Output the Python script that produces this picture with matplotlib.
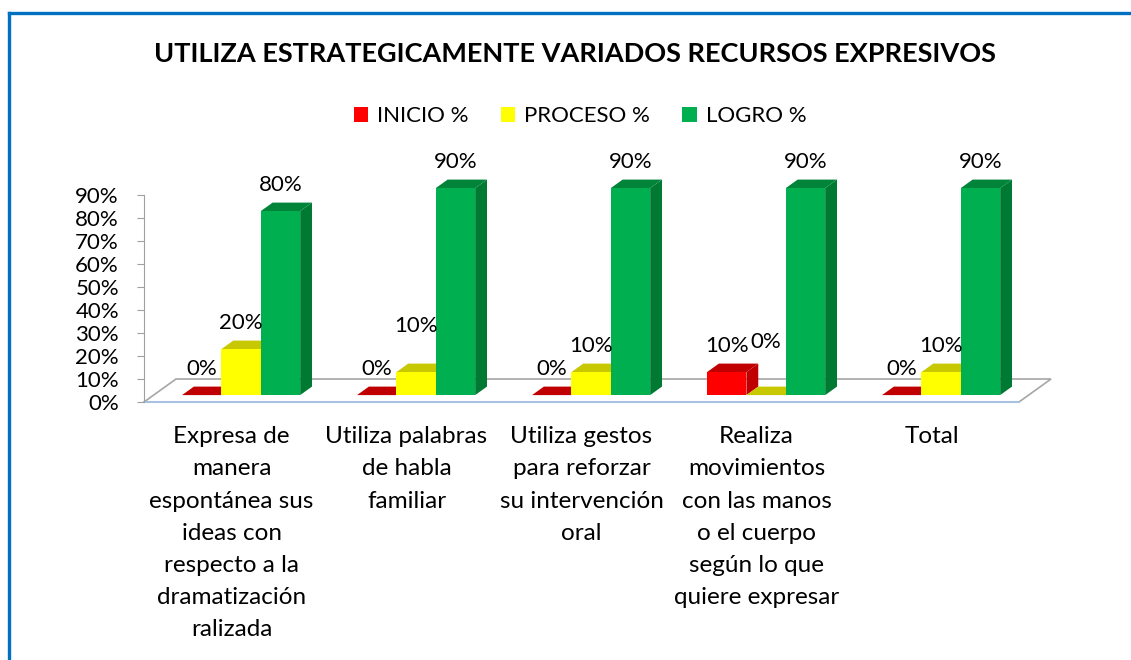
import matplotlib.pyplot as plt
from matplotlib.patches import Polygon, Patch
from matplotlib.lines import Line2D

plt.rcParams['font.family'] = ['Lato', 'DejaVu Sans']

# data
categories = ['Expresa de\nmanera\nespontánea sus\nideas con\nrespecto a la\ndramatización\nralizada',
              'Utiliza palabras\nde habla\nfamiliar',
              'Utiliza gestos\npara reforzar\nsu intervención\noral',
              'Realiza\nmovimientos\ncon las manos\no el cuerpo\nsegún lo que\nquiere expresar',
              'Total']
series_names = ['INICIO %', 'PROCESO %', 'LOGRO %']
inicio = [0, 0, 0, 10, 0]
proceso = [20, 10, 10, 0, 10]
logro = [80, 90, 90, 90, 90]
yticks = [0, 10, 20, 30, 40, 50, 60, 70, 80, 90]

# styles
front_cols = ['#FF0000', '#FFFF00', '#00B050']
top_cols = ['#C00000', '#C8C800', '#00843A']
side_cols = ['#C00000', '#B4B400', '#007A33']
# extra lift of a few data labels (percent units)
label_lift = [[0, 0, 0], [0, 9, 0], [0, 0, 0], [0, 12, 0], [0, 0, 0]]

W = 1131
H = 660
fig = plt.figure(figsize=(W / 100, H / 100), dpi=100)
px = 175.0  # pixels per category
ax = fig.add_axes([144 / W, (H - 402) / H, 5.3 * px / W, 230 / H])
ax.set_xlim(-0.5, 4.8)
ax.set_ylim(0, 100)

# depth projection (floor back edge offset)
DX = 32 / px
DY = 10.0
z_front = 0.3
z_back = 0.67
bw = 0.225

# floor
floor = Polygon([(-0.5, 0), (4.5, 0), (4.5 + DX, DY), (-0.5 + DX, DY)],
                closed=True, facecolor='white', edgecolor='#A6A6A6', lw=1.2, zorder=1)
ax.add_patch(floor)
ax.plot([-0.5, 4.5], [0, 0], color='#A9C1E0', lw=1.5, zorder=1.5, clip_on=False)

values = [inicio, proceso, logro]
for i in range(len(categories)):
    for k in range(3):
        h = values[k][i]
        x0 = i + (k - 1.5) * bw + z_front * DX
        x1 = x0 + bw
        y0 = z_front * DY
        ddx = (z_back - z_front) * DX
        ddy = (z_back - z_front) * DY
        zo = 2 + i * 3 + k
        side = Polygon([(x1, y0), (x1 + ddx, y0 + ddy), (x1 + ddx, y0 + ddy + h), (x1, y0 + h)],
                       closed=True, facecolor=side_cols[k], edgecolor='none', zorder=zo)
        top = Polygon([(x0, y0 + h), (x1, y0 + h), (x1 + ddx, y0 + ddy + h), (x0 + ddx, y0 + ddy + h)],
                      closed=True, facecolor=top_cols[k], edgecolor='none', zorder=zo)
        ax.add_patch(side)
        ax.add_patch(top)
        if h > 0:
            ax.bar(x0, h, width=bw, bottom=y0, align='edge', color=front_cols[k],
                   zorder=zo, clip_on=False)
        ax.text(x0 + bw / 2, h + z_back * DY + 7.5 + label_lift[i][k], f'{h}%',
                ha='center', va='center', fontsize=16, zorder=40)

for p in ax.patches:
    p.set_clip_on(False)

# category labels
for i, lab in enumerate(categories):
    ax.text(i, -10.5, lab, ha='center', va='top', fontsize=17.5, linespacing=1.66)

# axes
for s in ['top', 'right', 'bottom']:
    ax.spines[s].set_visible(False)
ax.spines['left'].set_color('#A0A0A0')
ax.spines['left'].set_bounds(0, 90)
ax.set_xticks([])
ax.set_yticks(yticks)
ax.set_yticklabels([f'{t}%' for t in yticks], fontsize=16)
ax.tick_params(axis='y', colors='#A0A0A0', labelcolor='black', length=5, pad=13)

# title and legend
fig.text(575 / W, 1 - 54 / H, 'UTILIZA ESTRATEGICAMENTE VARIADOS RECURSOS EXPRESIVOS',
         ha='center', va='center', fontsize=19.5, fontweight='bold')
handles = [Patch(facecolor=c, edgecolor='none') for c in front_cols]
fig.legend(handles, series_names, loc='center', bbox_to_anchor=(580 / W, 1 - 116 / H),
           ncol=3, frameon=False, fontsize=16, handlelength=0.65, handleheight=0.65,
           handletextpad=0.4, columnspacing=1.45)

# blue frame (left and top edges)
fig.add_artist(Line2D([9 / W, 9 / W], [0, 1 - 13 / H], color='#0070C0', lw=2.4))
fig.add_artist(Line2D([9 / W, 1], [1 - 13 / H, 1 - 13 / H], color='#0070C0', lw=2.4))

fig.savefig('out.png', dpi=100)
